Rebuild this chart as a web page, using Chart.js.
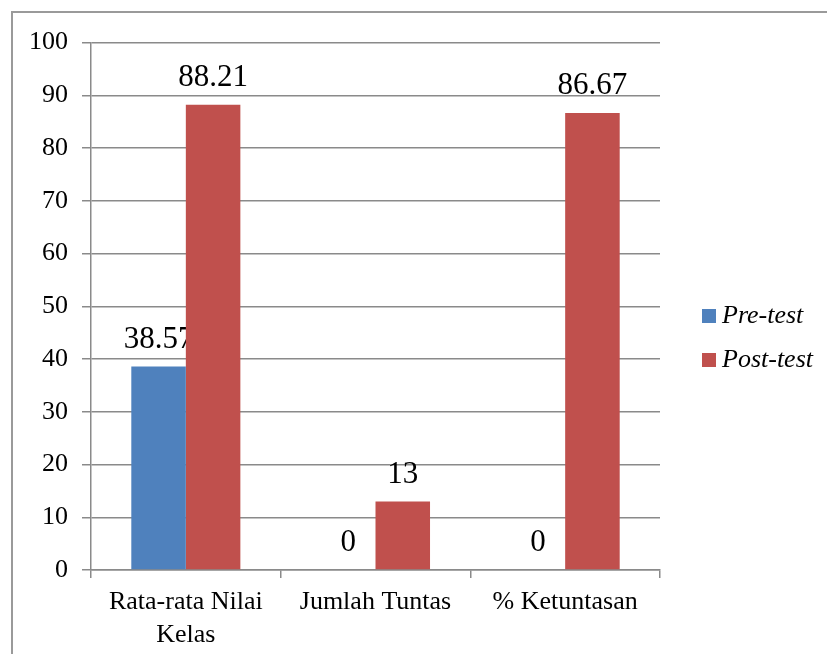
<!DOCTYPE html>
<html>
<head>
<meta charset="utf-8">
<script src="https://cdn.jsdelivr.net/npm/chart.js@4.4.0/dist/chart.umd.min.js"></script>
<style>
  html, body { margin: 0; padding: 0; background: #fff; overflow: hidden; }
  .frame {
    position: absolute; left: 11px; top: 11px;
    width: 830px; height: 660px;
    border: 2px solid #9a9a9a;
  }
  canvas { display: block; }
</style>
</head>
<body>
<div class="frame">
  <canvas id="chart" width="812" height="641"></canvas>
</div>
<script>
// ============ DATA ============
const categories = [["Rata-rata Nilai", "Kelas"], "Jumlah Tuntas", "% Ketuntasan"];
const seriesNames = ["Pre-test", "Post-test"];
const preTest = [38.57, 0, 0];
const postTest = [88.21, 13, 86.67];
const seriesColors = ["#4F81BD", "#C0504D"];

const serif = "'Liberation Serif', 'Times New Roman', serif";
const gridColor = "#8a8a8a";

function drawValues(chart, dsIndex) {
    const ctx = chart.ctx;
    const data = chart.data.datasets[dsIndex].data;
    const meta = chart.getDatasetMeta(dsIndex);
    ctx.save();
    ctx.font = "31px " + serif;
    ctx.fillStyle = "#000";
    ctx.textAlign = "center";
    ctx.textBaseline = "middle";
    meta.data.forEach((bar, i) => {
        ctx.fillText(String(data[i]), bar.x, bar.y - 27);
    });
    ctx.restore();
}

// value labels: Pre-test ones go under the bars (the red bar hides part of "38.57"
// like in the original), Post-test ones on top
const barLabels = {
    id: "barLabels",
    beforeDatasetsDraw(chart) { drawValues(chart, 0); },
    afterDatasetsDraw(chart) { drawValues(chart, 1); }
};

// legend on the right, drawn by hand
const sideLegend = {
    id: "sideLegend",
    afterDraw(chart) {
        const ctx = chart.ctx;
        const area = chart.chartArea;
        const x = area.right + 42;
        ctx.save();
        ctx.font = "italic 26px " + serif;
        ctx.textBaseline = "middle";
        chart.data.datasets.forEach((ds, i) => {
            const y = 303 + i * 44;
            ctx.fillStyle = ds.backgroundColor;
            ctx.fillRect(x, y - 7, 14, 14);
            ctx.fillStyle = "#000";
            ctx.fillText(ds.label, x + 20, y);
        });
        ctx.restore();
    }
};

new Chart(document.getElementById("chart"), {
    type: "bar",
    data: {
        labels: categories,
        datasets: [
            { label: seriesNames[0], data: preTest, backgroundColor: seriesColors[0] },
            { label: seriesNames[1], data: postTest, backgroundColor: seriesColors[1] }
        ]
    },
    options: {
        responsive: false,
        animation: false,
        layout: { padding: { top: 29, right: 165, left: 0, bottom: 0 } },
        datasets: {
            bar: { categoryPercentage: 0.575, barPercentage: 1.0 }
        },
        plugins: {
            legend: { display: false },
            tooltip: { enabled: false }
        },
        scales: {
            x: {
                grid: {
                    drawOnChartArea: false,
                    drawTicks: true,
                    tickLength: 8,
                    color: gridColor,
                    lineWidth: 1.5
                },
                border: { display: true, color: gridColor, width: 1.5 },
                ticks: {
                    color: "#000",
                    padding: 7.5,
                    maxRotation: 0,
                    autoSkip: false,
                    font: { family: serif, size: 26, lineHeight: 1.27 }
                },
                afterFit(scale) { scale.height = 84; }
            },
            y: {
                min: 0,
                max: 100,
                ticks: {
                    stepSize: 10,
                    color: "#000",
                    padding: 14,
                    font: { family: serif, size: 26 }
                },
                grid: {
                    color: gridColor,
                    lineWidth: 1.5,
                    tickLength: 9
                },
                border: { display: true, color: gridColor, width: 1.5 },
                afterFit(scale) { scale.width = 78; }
            }
        }
    },
    plugins: [barLabels, sideLegend]
});
</script>
</body>
</html>
